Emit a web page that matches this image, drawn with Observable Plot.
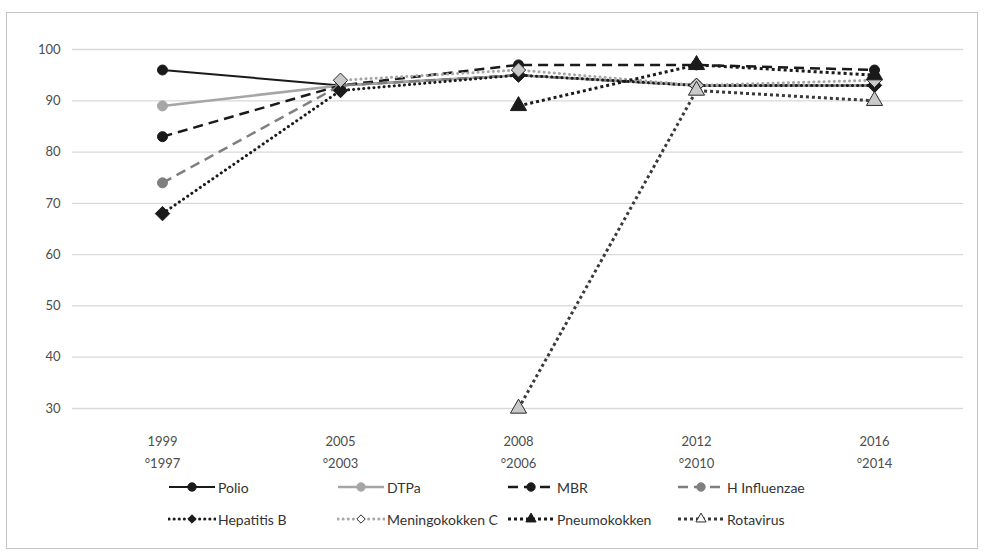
<!DOCTYPE html>
<html><head><meta charset="utf-8">
<script src="https://cdn.jsdelivr.net/npm/d3@7"></script>
<script src="https://cdn.jsdelivr.net/npm/@observablehq/plot@0.6"></script>
<style>
body{margin:0;background:#fff;font-family:Lato,"Open Sans",sans-serif;}
#wrap{position:relative;width:984px;height:550px;overflow:hidden;}
#frame{position:absolute;left:6px;top:12px;width:972px;height:537px;border:1px solid #c4c4c4;box-sizing:border-box;pointer-events:none;}
#chart{position:absolute;left:0;top:0;}
#legend{position:absolute;left:0;top:476px;width:984px;height:60px;}
.item{position:absolute;display:flex;align-items:center;height:22px;font-size:14px;color:#333;white-space:nowrap;}
.item svg{display:block;margin-right:2px;}
</style></head>
<body><div id="wrap"><div id="chart"></div><div id="legend"></div><div id="frame"></div></div>
<script>
const categories = ["1999\n°1997", "2005\n°2003", "2008\n°2006", "2012\n°2010", "2016\n°2014"];
const yTicks = [30, 40, 50, 60, 70, 80, 90, 100];

const seriesNames = ["Polio", "DTPa", "MBR", "H Influenzae", "Hepatitis B", "Meningokokken C", "Pneumokokken", "Rotavirus"];
const polio          = [96, 93, 95, 93, 93];
const dtpa           = [89, 93, 95, 93, 93];
const mbr            = [83, 93, 97, 97, 96];
const hInfluenzae    = [74, 93, 95, 93, 93];
const hepatitisB     = [68, 92, 95, 93, 93];
const meningokokkenC = [null, 94, 96, 93, 94];
const pneumokokken   = [null, null, 89, 97, 95];
const rotavirus      = [null, null, 30, 92, 90];
const seriesValues = [polio, dtpa, mbr, hInfluenzae, hepatitisB, meningokokkenC, pneumokokken, rotavirus];

const lineColors   = ["#1a1a1a", "#a6a6a6", "#1a1a1a", "#7f7f7f", "#1a1a1a", "#a6a6a6", "#1a1a1a", "#3a3a3a"];
const dashes       = [null, null, "10,6", "10,6", "0.1,5", "0.1,5", "3,3", "3,3"];
const caps         = ["butt", "butt", "butt", "butt", "round", "round", "butt", "butt"];
const widths       = [2, 2.5, 2.5, 2.5, 3, 3, 3, 3];
const symbols      = ["circle", "circle", "circle", "circle", "diamond2", "diamond2", "triangle", "triangle"];
const markerFill   = ["#1a1a1a", "#a6a6a6", "#1a1a1a", "#7f7f7f", "#1a1a1a", "#c9c9c9", "#1a1a1a", "#c9c9c9"];
const markerStroke = ["#1a1a1a", "#a6a6a6", "#1a1a1a", "#7f7f7f", "#1a1a1a", "#2a2a2a", "#1a1a1a", "#2a2a2a"];
const markerR      = [5, 5, 5, 5, 6.5, 6.5, 6, 6];

const rows = [];
seriesNames.forEach((name, i) => {
  seriesValues[i].forEach((v, j) => {
    if (v != null) rows.push({series: name, idx: i, cat: categories[j], value: v});
  });
});

const marks = [
  Plot.gridY(yTicks, {stroke: "#d9d9d9", strokeOpacity: 1, strokeWidth: 1.3}),
  Plot.axisY({ticks: yTicks, tickSize: 0, tickPadding: 12, fontSize: 13}),
  Plot.axisX({tickSize: 0, tickPadding: 22, fontSize: 13, lineHeight: 1.7})
];
seriesNames.forEach((name, i) => {
  const d = rows.filter(r => r.idx === i);
  marks.push(Plot.line(d, {x: "cat", y: "value", stroke: lineColors[i], strokeWidth: widths[i],
    strokeDasharray: dashes[i] || undefined, strokeLinecap: caps[i]}));
  marks.push(Plot.dot(d, {x: "cat", y: "value", symbol: symbols[i], r: markerR[i],
    fill: markerFill[i], stroke: markerStroke[i], strokeWidth: 1}));
});

const chart = Plot.plot({
  width: 984,
  height: 475,
  marginTop: 49,
  marginBottom: 67,
  marginLeft: 72,
  marginRight: 21,
  style: {fontFamily: "Lato, 'Open Sans', sans-serif", color: "#4d4d4d", background: "transparent"},
  x: {type: "point", domain: categories, padding: 0.5, label: null},
  y: {domain: [30, 100], label: null},
  marks
});
document.getElementById("chart").append(chart);

// Legend
const legendLeft = [168, 337, 507, 677];
const legend = d3.select("#legend");
const symMap = {circle: d3.symbolCircle, diamond2: d3.symbolDiamond2, triangle: d3.symbolTriangle};
seriesNames.forEach((name, i) => {
  const col = i % 4, row = Math.floor(i / 4);
  const item = legend.append("div").attr("class", "item")
    .style("left", legendLeft[col] + "px").style("top", (row * 32) + "px");
  const sw = item.append("svg").attr("width", 48).attr("height", 14);
  sw.append("line").attr("x1", 1).attr("x2", 47).attr("y1", 7).attr("y2", 7)
    .attr("stroke", lineColors[i]).attr("stroke-width", widths[i])
    .attr("stroke-dasharray", dashes[i]).attr("stroke-linecap", caps[i]);
  sw.append("path").attr("transform", "translate(24,7)")
    .attr("d", d3.symbol(symMap[symbols[i]], i < 4 ? 55 : 45)())
    .attr("fill", i === 5 || i === 7 ? "#fff" : markerFill[i])
    .attr("stroke", markerStroke[i]).attr("stroke-width", 1);
  item.append("span").text(name);
});
</script>
</body></html>
